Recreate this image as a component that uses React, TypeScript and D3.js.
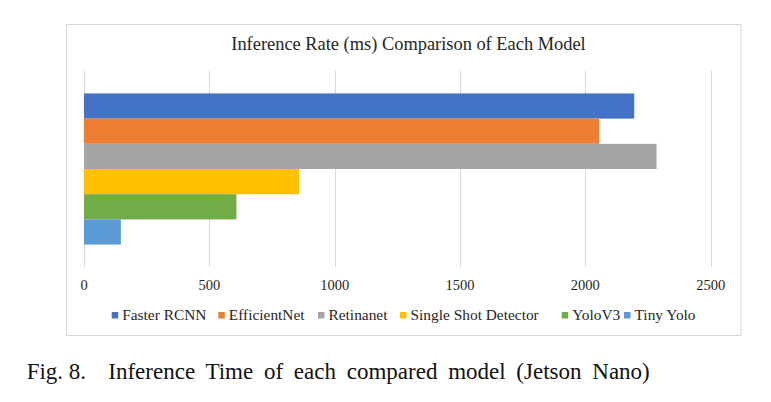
import React, { useEffect, useRef } from 'react';
import * as d3 from 'd3';

const models = ['Faster RCNN', 'EfficientNet', 'Retinanet', 'Single Shot Detector', 'YoloV3', 'Tiny Yolo'];
const inferenceMs = [2195, 2055, 2284, 858, 608, 147];
const colors = ['#4472C4', '#ED7D31', '#A5A5A5', '#FFC000', '#70AD47', '#5B9BD5'];
const xTicks = [0, 500, 1000, 1500, 2000, 2500];

const chartTitle = 'Inference Rate (ms) Comparison of Each Model';
const figLabel = 'Fig. 8.';
const figCaption = 'Inference Time of each compared model (Jetson Nano)';

const App: React.FC = () => {
  const ref = useRef<SVGSVGElement | null>(null);

  useEffect(() => {
    document.body.style.margin = '0';
    if (!ref.current) return;
    d3.select(ref.current).selectAll('*').remove();

    const width = 771;
    const height = 402;
    const font = '"Liberation Serif", "Times New Roman", serif';
    const box = { left: 66, top: 24, right: 740.5, bottom: 335 };
    const plot = { left: 84, right: 710.7, top: 71, bottom: 267 };

    const svg = d3
      .select(ref.current)
      .attr('width', width)
      .attr('height', height)
      .style('display', 'block')
      .style('background', '#fff');

    // chart frame
    svg
      .append('rect')
      .attr('x', box.left + 0.5)
      .attr('y', box.top + 0.5)
      .attr('width', box.right - box.left)
      .attr('height', box.bottom - box.top)
      .attr('fill', '#fff')
      .attr('stroke', '#d9d9d9');

    svg
      .append('text')
      .attr('x', 408.5)
      .attr('y', 49.5)
      .attr('text-anchor', 'middle')
      .attr('font-family', font)
      .attr('font-size', 18.4)
      .attr('fill', '#262626')
      .text(chartTitle);

    const xScale = d3.scaleLinear().domain([0, 2500]).range([plot.left, plot.right]);

    const yScale = d3
      .scaleBand()
      .domain(models)
      .range([plot.top, plot.bottom])
      .paddingInner(0)
      .paddingOuter(0.89);

    // vertical grid lines
    svg
      .selectAll('.x-grid')
      .data(xTicks)
      .enter()
      .append('line')
      .attr('class', 'x-grid')
      .attr('x1', (d) => Math.round(xScale(d)) + 0.5)
      .attr('x2', (d) => Math.round(xScale(d)) + 0.5)
      .attr('y1', plot.top)
      .attr('y2', plot.bottom)
      .attr('stroke', '#d9d9d9');

    svg
      .selectAll('.bar')
      .data(models)
      .enter()
      .append('rect')
      .attr('class', 'bar')
      .attr('x', xScale(0))
      .attr('y', (d) => yScale(d) as number)
      .attr('width', (d, i) => xScale(inferenceMs[i]) - xScale(0))
      .attr('height', yScale.bandwidth())
      .attr('fill', (d, i) => colors[i]);

    svg
      .selectAll('.x-label')
      .data(xTicks)
      .enter()
      .append('text')
      .attr('class', 'x-label')
      .attr('x', (d) => xScale(d))
      .attr('y', 290)
      .attr('text-anchor', 'middle')
      .attr('font-family', font)
      .attr('font-size', 14.5)
      .attr('fill', '#262626')
      .text((d) => d);

    // legend, laid out left to right
    const legendX = [111.7, 218.3, 318, 400, 561.7, 624];
    const legend = svg
      .selectAll('.legend')
      .data(models)
      .enter()
      .append('g')
      .attr('class', 'legend')
      .attr('transform', (d, i) => `translate(${legendX[i]}, 320)`);

    legend
      .append('rect')
      .attr('x', 0)
      .attr('y', -8)
      .attr('width', 6.5)
      .attr('height', 6.5)
      .attr('fill', (d, i) => colors[i]);

    legend
      .append('text')
      .attr('x', 10.5)
      .attr('y', 0)
      .attr('font-family', font)
      .attr('font-size', 15.4)
      .attr('fill', '#262626')
      .text((d) => d);

    // figure caption below the chart
    svg
      .append('text')
      .attr('x', 26.7)
      .attr('y', 379)
      .attr('font-family', font)
      .attr('font-size', 23)
      .attr('fill', '#111')
      .text(figLabel);

    svg
      .append('text')
      .attr('x', 108.3)
      .attr('y', 379)
      .attr('font-family', font)
      .attr('font-size', 23)
      .attr('word-spacing', 5)
      .attr('fill', '#111')
      .text(figCaption);
  }, []);

  return <svg ref={ref}></svg>;
};

export default App;
